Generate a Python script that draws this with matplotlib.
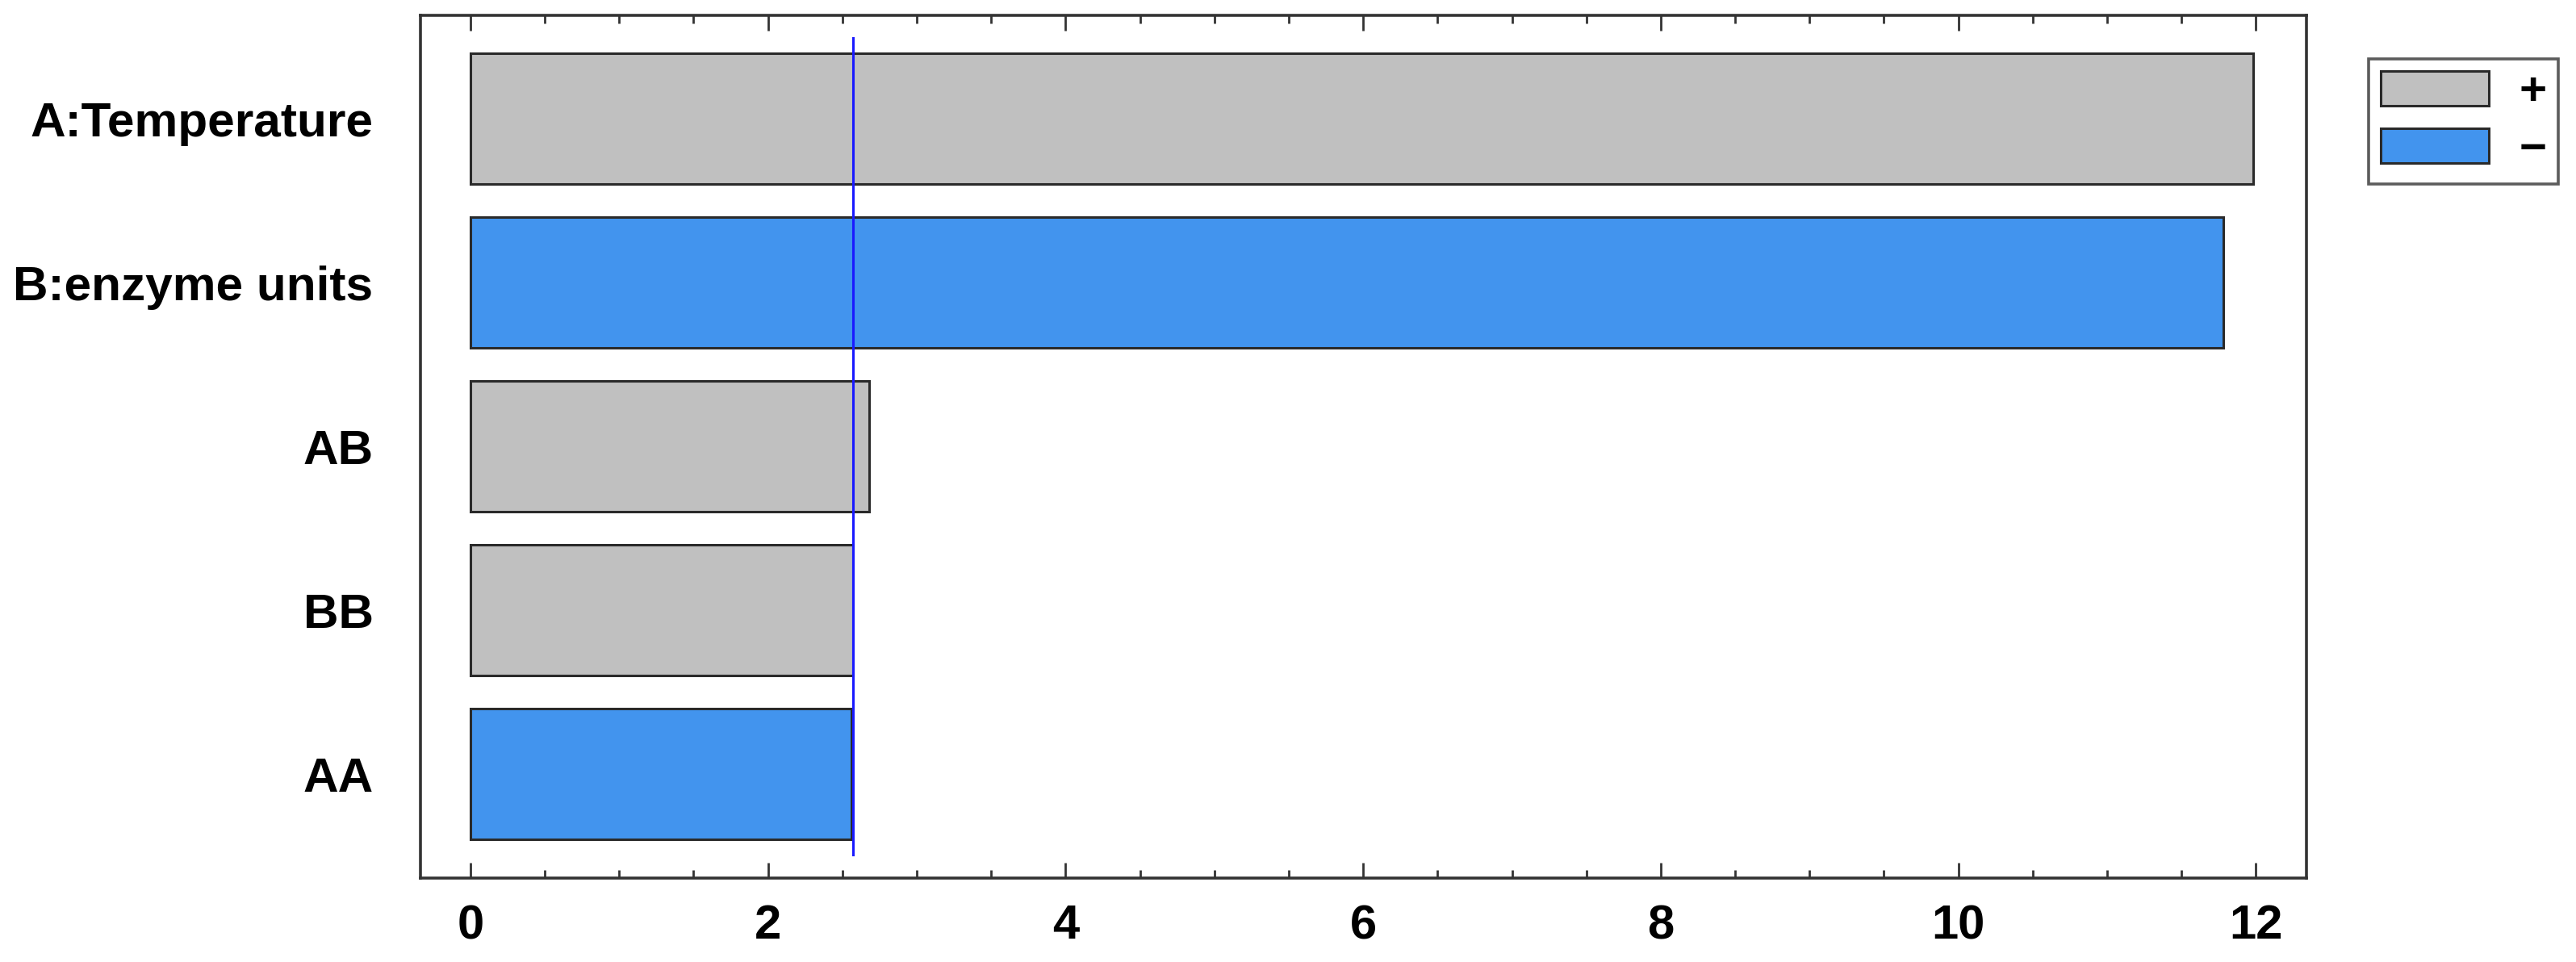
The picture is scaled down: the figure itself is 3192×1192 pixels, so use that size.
import matplotlib
matplotlib.use("Agg")
import matplotlib.pyplot as plt
import matplotlib.patches as patches
from matplotlib.ticker import MultipleLocator

# Dados do gráfico de Pareto padronizado
effects = ['A:Temperature', 'B:enzyme units', 'AB', 'BB', 'AA']
values = [11.98, 11.78, 2.68, 2.57, 2.56]
signs = ['+', '-', '+', '+', '-']
critical_value = 2.571

plt.rcParams['font.family'] = ['Liberation Sans', 'DejaVu Sans']

color_pos = '#c0c0c0'
color_neg = '#4294ee'
edge = '#2a2a2a'

fig = plt.figure(figsize=(31.92, 11.92), dpi=100)
ax = fig.add_axes([0.1632, 0.0872, 0.7322, 0.8968])

ypos = list(range(len(effects)))
colors = [color_pos if s == '+' else color_neg for s in signs]
ax.barh(ypos, values, height=0.8, color=colors, edgecolor=edge, linewidth=2.2, zorder=2)

# Linha do valor crítico
ax.plot([critical_value, critical_value], [-0.494, 4.493], color='#1a1aff', linewidth=2.2, zorder=3)

ax.set_xlim(-0.336, 12.34)
ax.set_ylim(4.636, -0.632)
ax.set_yticks(ypos)
ax.set_yticklabels(effects, fontsize=43.5, fontweight='bold')
ax.xaxis.set_major_locator(MultipleLocator(2))
ax.xaxis.set_minor_locator(MultipleLocator(0.5))
for lbl in ax.get_xticklabels():
    lbl.set_fontweight('bold')

ax.tick_params(axis='y', length=0, pad=42)
ax.tick_params(axis='x', which='major', direction='in', length=14, width=2,
               top=True, bottom=True, pad=23, labelsize=43, color='#333333')
ax.tick_params(axis='x', which='minor', direction='in', length=7, width=2,
               top=True, bottom=True, color='#333333')
for sp in ax.spines.values():
    sp.set_linewidth(2.6)
    sp.set_color('#333333')

# Legenda manual (+ / −)
handles = [patches.Patch(facecolor=color_pos, edgecolor=edge, linewidth=2.2),
           patches.Patch(facecolor=color_neg, edgecolor=edge, linewidth=2.2)]
leg = fig.legend(handles, ['+', '\u2212'], loc='upper left',
                 bbox_to_anchor=(0.9195, 0.9388), fancybox=False, frameon=True,
                 prop={'size': 42, 'weight': 'bold'}, handlelength=2.3, handleheight=0.75,
                 handletextpad=0.64, borderpad=0.25, borderaxespad=0, labelspacing=0.3)
leg.get_frame().set_edgecolor('#333333')
leg.get_frame().set_linewidth(2.6)

fig.savefig('out.png', dpi=100)
